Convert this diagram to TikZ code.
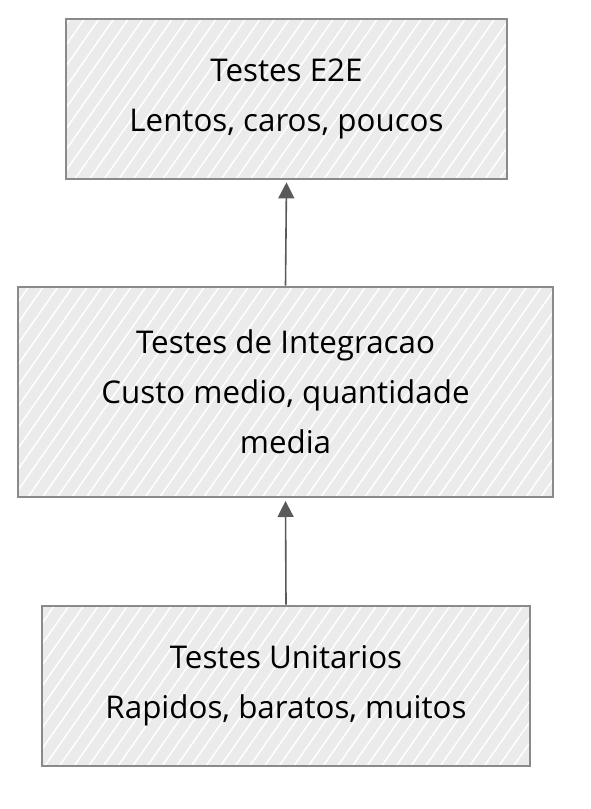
\documentclass[tikz,border=0pt]{standalone}
\usepackage{fontspec}
\setmainfont{Open Sans}
\usepackage{tikz}
\usetikzlibrary{arrows.meta, patterns.meta}

\definecolor{boxLine}{HTML}{8A8A8A}
\definecolor{boxFill}{HTML}{EBEBEB}
\definecolor{arrowLine}{HTML}{5A5A5A}

\tikzset{
	layerBox/.style={draw=boxLine, line width=2pt, preaction={fill=boxFill}, align=center,
		font=\fontsize{23.5}{37.5}\selectfont, text=black,
		pattern={Lines[angle=55,distance=9pt,line width=1.1pt]}, pattern color=white},
	layerArrow/.style={-{Triangle[length=12pt,width=12pt]}, draw=arrowLine, fill=arrowLine, line width=1.2pt, shorten >=2pt}
}

\begin{document}
\begin{tikzpicture}[x=0.75pt, y=-0.75pt]
	\useasboundingbox (0,0) rectangle (590,809);
	
	% Top layer
	\node (e2e) at (286.5,99) [layerBox, minimum width=330.75pt, minimum height=120pt] {Testes E2E\\Lentos, caros, poucos};
	
	% Middle layer
	\node (integration) at (285.5,392) [layerBox, minimum width=401.25pt, minimum height=157.5pt] {Testes de Integracao\\Custo medio, quantidade\\media};
	
	% Bottom layer
	\node (unit) at (286,686) [layerBox, minimum width=366pt, minimum height=120pt] {Testes Unitarios\\Rapidos, baratos, muitos};
	
	% Arrows
	\draw[layerArrow] (unit.north) -- (integration.south);
	\draw[layerArrow] (integration.north) -- (e2e.south);
\end{tikzpicture}
\end{document}
